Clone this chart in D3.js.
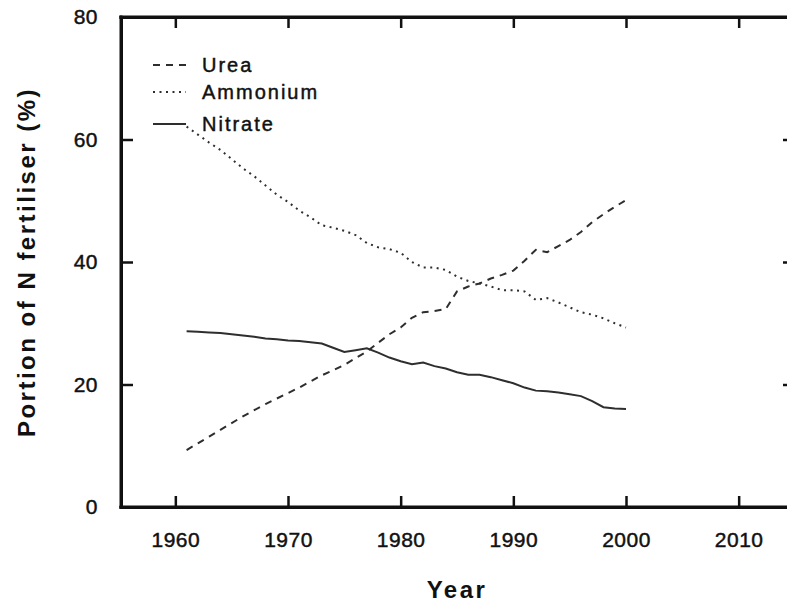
<!DOCTYPE html>
<html>
<head>
<meta charset="utf-8">
<script src="https://cdn.jsdelivr.net/npm/d3@7/dist/d3.min.js"></script>
<style>
    body { margin: 0; background: #fff; }
    svg text { font-family: 'Liberation Sans', Arial, sans-serif; fill: #111; }
</style>
</head>
<body>
<svg id="chart" width="787" height="605"></svg>
<script>
const years = [
    1961, 1962, 1963, 1964, 1965, 1966, 1967, 1968, 1969, 1970,
    1971, 1972, 1973, 1974, 1975, 1976, 1977, 1978, 1979, 1980,
    1981, 1982, 1983, 1984, 1985, 1986, 1987, 1988, 1989, 1990,
    1991, 1992, 1993, 1994, 1995, 1996, 1997, 1998, 1999, 2000
];

const urea = [
    9.3, 10.4, 11.5, 12.6, 13.7, 14.8, 15.8, 16.8, 17.7, 18.6,
    19.5, 20.5, 21.5, 22.3, 23.2, 24.3, 25.4, 26.8, 28.2, 29.3,
    30.9, 31.8, 32.0, 32.3, 35.2, 36.0, 36.5, 37.3, 37.9, 38.6,
    40.2, 42.0, 41.6, 42.6, 43.6, 44.9, 46.5, 47.8, 49.0, 50.1
];

const ammonium = [
    62.1, 60.8, 59.5, 58.3, 56.8, 55.3, 54.0, 52.5, 51.0, 49.8,
    48.4, 47.3, 46.0, 45.6, 45.1, 44.4, 43.1, 42.4, 42.1, 41.5,
    40.0, 39.1, 39.1, 38.7, 37.6, 36.9, 36.5, 36.0, 35.4, 35.4,
    35.2, 33.8, 34.1, 33.4, 32.6, 31.8, 31.4, 30.8, 30.0, 29.3
];

const nitrate = [
    28.7, 28.6, 28.5, 28.4, 28.2, 28.0, 27.8, 27.5, 27.4, 27.2,
    27.1, 26.9, 26.7, 26.0, 25.3, 25.6, 25.9, 25.2, 24.4, 23.8,
    23.3, 23.6, 23.0, 22.6, 22.0, 21.6, 21.6, 21.2, 20.7, 20.2,
    19.5, 19.0, 18.9, 18.7, 18.4, 18.1, 17.3, 16.3, 16.1, 16.0
];

const seriesNames = [ 'Urea', 'Ammonium', 'Nitrate' ];
const xTicks = [ 1960, 1970, 1980, 1990, 2000, 2010 ];
const yTicks = [ 0, 20, 40, 60, 80 ];

const svg = d3.select('#chart');
const plotLeft = 121, plotRight = 795, plotTop = 17, plotBottom = 507;
const ink = '#111';
const lineColor = '#2e2e2e';

// x runs a bit past the window on the right, like the original figure
const x = d3
.scaleLinear()
.domain([ 1955, 2015 ])
.range([ 119, 795 ]);

const y = d3
.scaleLinear()
.domain([ 0, 80 ])
.range([ plotBottom, plotTop ]);

const styleAxis = function(g) {
    g.select('.domain').attr('stroke', ink).attr('stroke-width', 3);
    g.selectAll('.tick line').attr('stroke', ink).attr('stroke-width', 2.5);
    g.selectAll('.tick text')
    .attr('fill', ink)
    .attr('stroke', ink)
    .attr('stroke-width', 0.45)
    .style('font-size', '21px')
    .style('letter-spacing', '0.5px');
};

// bottom axis, ticks pointing inward
svg.append('g')
.attr('transform', 'translate(0,' + plotBottom + ')')
.call(d3.axisBottom(x).tickValues(xTicks).tickFormat(d3.format('d')).tickSizeInner(-11).tickSizeOuter(0).tickPadding(25))
.call(styleAxis);

// left axis
svg.append('g')
.attr('transform', 'translate(' + plotLeft + ',0)')
.call(d3.axisLeft(y).tickValues(yTicks).tickSizeInner(-12).tickSizeOuter(0).tickPadding(23))
.call(styleAxis);

// top and right frame, ticks only
svg.append('g')
.attr('transform', 'translate(0,' + plotTop + ')')
.call(d3.axisTop(x).tickValues(xTicks).tickFormat('').tickSizeInner(-11).tickSizeOuter(0))
.call(styleAxis);

svg.append('g')
.attr('transform', 'translate(' + plotRight + ',0)')
.call(d3.axisRight(y).tickValues(yTicks).tickFormat('').tickSizeInner(-12).tickSizeOuter(0))
.call(styleAxis);

// close the frame corners
svg.append('path')
.attr('d', 'M' + plotLeft + ',' + (plotTop - 1.5) + 'V' + (plotBottom + 1.5))
.attr('stroke', ink)
.attr('stroke-width', 3);
svg.append('path')
.attr('d', 'M' + (plotLeft - 1.5) + ',' + plotTop + 'H' + plotRight + 'M' + (plotLeft - 1.5) + ',' + plotBottom + 'H' + plotRight)
.attr('stroke', ink)
.attr('stroke-width', 3);

const series = [
    { name: seriesNames[0], values: urea, dash: '7,6' },
    { name: seriesNames[1], values: ammonium, dash: '2,4.5' },
    { name: seriesNames[2], values: nitrate, dash: null }
];

const line = d3
.line()
.x(function(d, i) {
    return x(years[i]);
})
.y(function(d) {
    return y(d);
});

svg.selectAll('.series')
.data(series)
.enter()
.append('path')
.attr('class', 'series')
.attr('fill', 'none')
.attr('stroke', lineColor)
.attr('stroke-width', 2)
.attr('stroke-dasharray', function(d) {
    return d.dash;
})
.attr('d', function(d) {
    return line(d.values);
});

// legend
const legendRows = [ 65, 92, 124 ];
const legend = svg.selectAll('.legend')
.data(series)
.enter()
.append('g')
.attr('class', 'legend')
.attr('transform', function(d, i) {
    return 'translate(153,' + legendRows[i] + ')';
});

legend.append('line')
.attr('x1', 0)
.attr('x2', 33)
.attr('stroke', lineColor)
.attr('stroke-width', 2)
.attr('stroke-dasharray', function(d) {
    return d.dash;
});

legend.append('text')
.attr('x', 49)
.attr('y', 0)
.attr('dy', '0.35em')
.attr('stroke', ink)
.attr('stroke-width', 0.45)
.style('font-size', '20px')
.style('letter-spacing', '2px')
.text(function(d) {
    return d.name;
});

// axis titles
svg.append('text')
.attr('x', (x.range()[0] + x.range()[1]) / 2)
.attr('y', 598)
.attr('text-anchor', 'middle')
.style('font-size', '24px')
.style('font-weight', 'bold')
.style('letter-spacing', '2.5px')
.text('Year');

svg.append('text')
.attr('transform', 'translate(35,' + (plotTop + plotBottom) / 2 + ') rotate(-90)')
.attr('text-anchor', 'middle')
.style('font-size', '24px')
.style('font-weight', 'bold')
.style('letter-spacing', '2.5px')
.text('Portion of N fertiliser (%)');
</script>
</body>
</html>
